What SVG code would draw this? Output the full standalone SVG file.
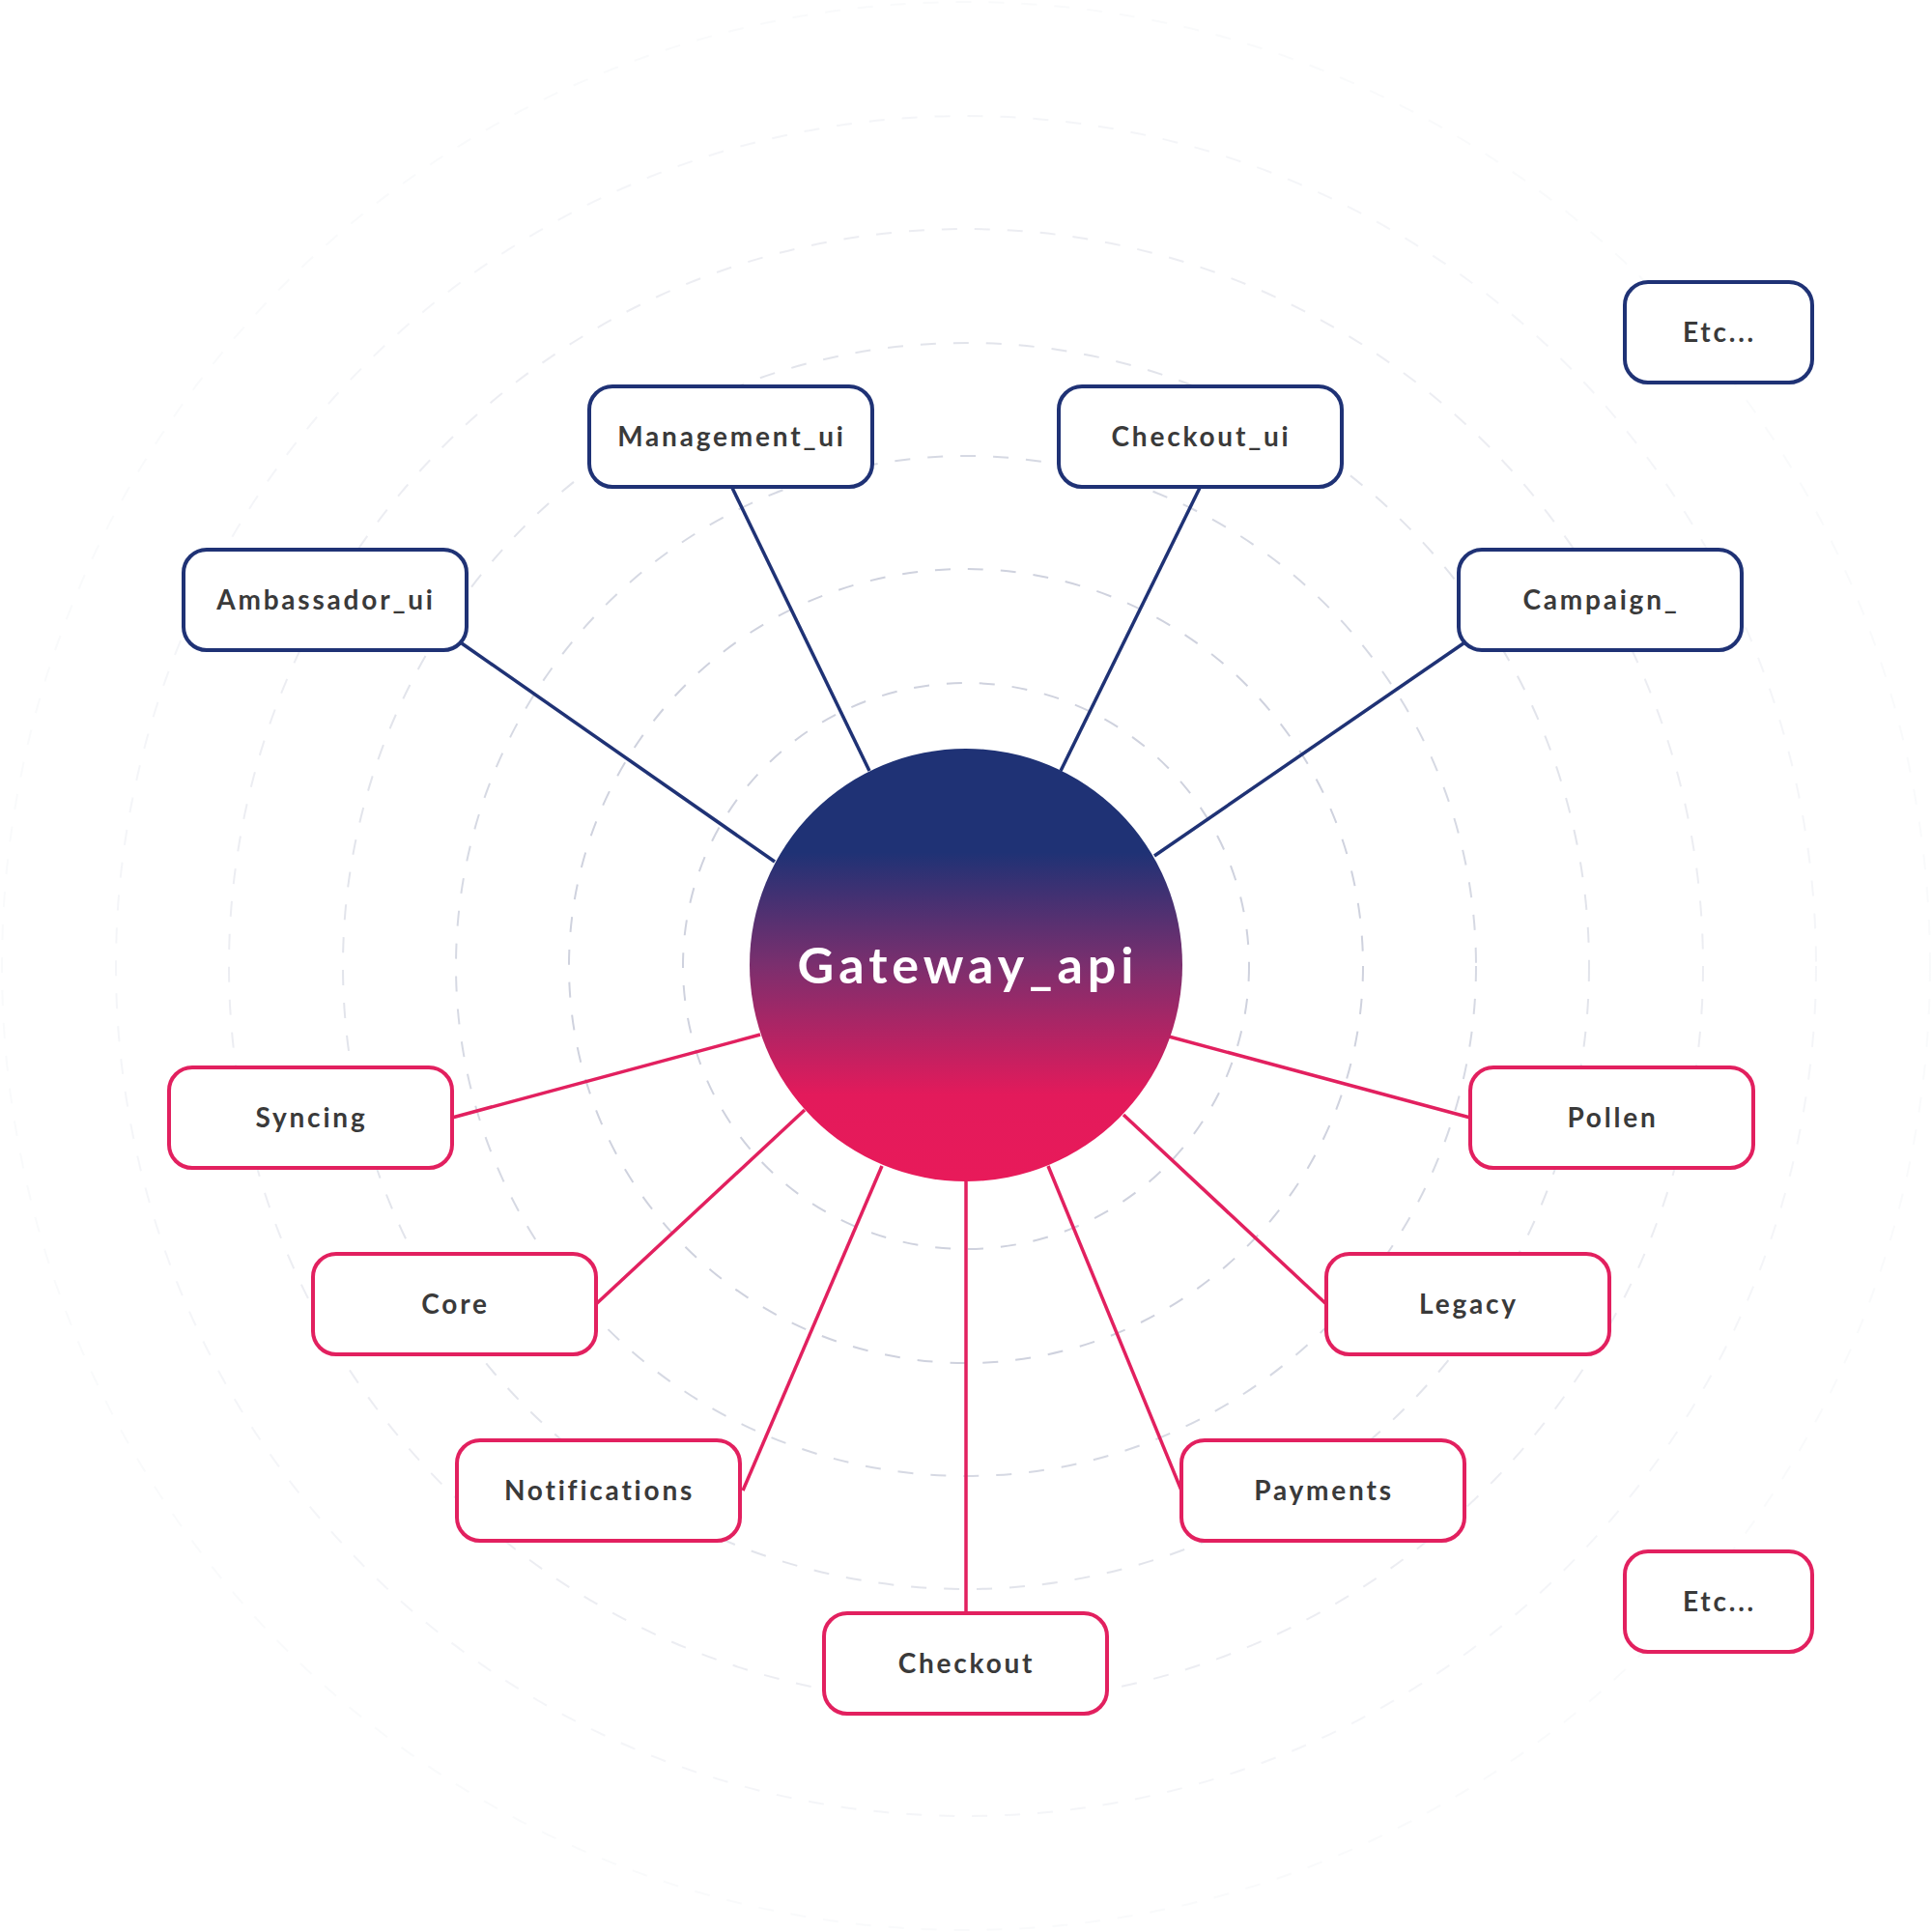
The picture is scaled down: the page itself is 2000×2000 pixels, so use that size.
<svg xmlns="http://www.w3.org/2000/svg" width="2000" height="2000" viewBox="0 0 2000 2000">
  <defs>
    <linearGradient id="hubGrad" x1="0" y1="0" x2="0" y2="1">
      <stop offset="0" stop-color="#1f3275"/>
      <stop offset="0.24" stop-color="#1f3275"/>
      <stop offset="0.5" stop-color="#7b2f6e"/>
      <stop offset="0.8" stop-color="#e31a5b"/>
      <stop offset="1" stop-color="#e81a5a"/>
    </linearGradient>
    <style>
      .ring { fill: none; stroke: #cfd2de; stroke-width: 2; stroke-dasharray: 16 18; }
      .box-blue { fill: #ffffff; stroke: #1f3275; stroke-width: 4; }
      .box-pink { fill: #ffffff; stroke: #e2205f; stroke-width: 4; }
      .line-blue { stroke: #1f3275; stroke-width: 3.5; fill: none; }
      .line-pink { stroke: #e2205f; stroke-width: 3.5; fill: none; }
      .label { font-family: "Lato", "Liberation Sans", sans-serif; font-weight: 700; font-size: 28px; fill: #3a3a3a; text-anchor: middle; letter-spacing: 2.8px; }
      .hub-label { font-family: "Lato", "Liberation Sans", sans-serif; font-weight: 700; font-size: 52px; fill: #ffffff; text-anchor: middle; letter-spacing: 5px; }
    </style>
  </defs>
  <rect x="0" y="0" width="2000" height="2000" fill="#ffffff"/>

  <g id="rings">
    <circle class="ring" cx="1000" cy="1000" r="293"/>
    <circle class="ring" cx="1000" cy="1000" r="411"/>
    <circle class="ring" cx="1000" cy="1000" r="528" opacity="0.85"/>
    <circle class="ring" cx="1000" cy="1000" r="645" opacity="0.6"/>
    <circle class="ring" cx="1000" cy="1000" r="763" opacity="0.4"/>
    <circle class="ring" cx="1000" cy="1000" r="880" opacity="0.22"/>
    <circle class="ring" cx="1000" cy="1000" r="998" opacity="0.12"/>
  </g>

  <g id="connectors">
    <line class="line-blue" x1="758" y1="505" x2="900" y2="798"/>
    <line class="line-blue" x1="1242" y1="505" x2="1098" y2="798"/>
    <line class="line-blue" x1="478" y1="666" x2="802" y2="892"/>
    <line class="line-blue" x1="1515" y1="666" x2="1195" y2="886"/>
    <line class="line-pink" x1="468" y1="1157" x2="787" y2="1071"/>
    <line class="line-pink" x1="1522" y1="1157" x2="1210" y2="1073"/>
    <line class="line-pink" x1="617" y1="1350" x2="833" y2="1149"/>
    <line class="line-pink" x1="1373" y1="1350" x2="1163" y2="1154"/>
    <line class="line-pink" x1="769" y1="1543" x2="913" y2="1207"/>
    <line class="line-pink" x1="1223" y1="1543" x2="1085" y2="1207"/>
    <line class="line-pink" x1="1000" y1="1670" x2="1000" y2="1223"/>
  </g>

  <g id="gateway_api">
    <circle cx="1000" cy="999" r="224" fill="url(#hubGrad)"/>
    <text class="hub-label" x="1002" y="1018">Gateway_api</text>
  </g>

  <g id="management_ui">
    <rect class="box-blue" x="610" y="400" width="293" height="104" rx="24"/>
    <text class="label" x="757.5" y="462">Management_ui</text>
  </g>
  <g id="checkout_ui">
    <rect class="box-blue" x="1096" y="400" width="293" height="104" rx="24"/>
    <text class="label" x="1243.5" y="462">Checkout_ui</text>
  </g>
  <g id="ambassador_ui">
    <rect class="box-blue" x="190" y="569" width="293" height="104" rx="24"/>
    <text class="label" x="337.5" y="631">Ambassador_ui</text>
  </g>
  <g id="campaign">
    <rect class="box-blue" x="1510" y="569" width="293" height="104" rx="24"/>
    <text class="label" x="1657.5" y="631">Campaign_</text>
  </g>
  <g id="etc_top">
    <rect class="box-blue" x="1682" y="292" width="194" height="104" rx="24"/>
    <text class="label" x="1780" y="354">Etc...</text>
  </g>

  <g id="syncing">
    <rect class="box-pink" x="175" y="1105" width="293" height="104" rx="24"/>
    <text class="label" x="322.5" y="1167">Syncing</text>
  </g>
  <g id="pollen">
    <rect class="box-pink" x="1522" y="1105" width="293" height="104" rx="24"/>
    <text class="label" x="1669.5" y="1167">Pollen</text>
  </g>
  <g id="core">
    <rect class="box-pink" x="324" y="1298" width="293" height="104" rx="24"/>
    <text class="label" x="471.5" y="1360">Core</text>
  </g>
  <g id="legacy">
    <rect class="box-pink" x="1373" y="1298" width="293" height="104" rx="24"/>
    <text class="label" x="1520.5" y="1360">Legacy</text>
  </g>
  <g id="notifications">
    <rect class="box-pink" x="473" y="1491" width="293" height="104" rx="24"/>
    <text class="label" x="620.5" y="1553">Notifications</text>
  </g>
  <g id="payments">
    <rect class="box-pink" x="1223" y="1491" width="293" height="104" rx="24"/>
    <text class="label" x="1370.5" y="1553">Payments</text>
  </g>
  <g id="checkout">
    <rect class="box-pink" x="853" y="1670" width="293" height="104" rx="24"/>
    <text class="label" x="1000.5" y="1732">Checkout</text>
  </g>
  <g id="etc_bottom">
    <rect class="box-pink" x="1682" y="1606" width="194" height="104" rx="24"/>
    <text class="label" x="1780" y="1668">Etc...</text>
  </g>
</svg>
